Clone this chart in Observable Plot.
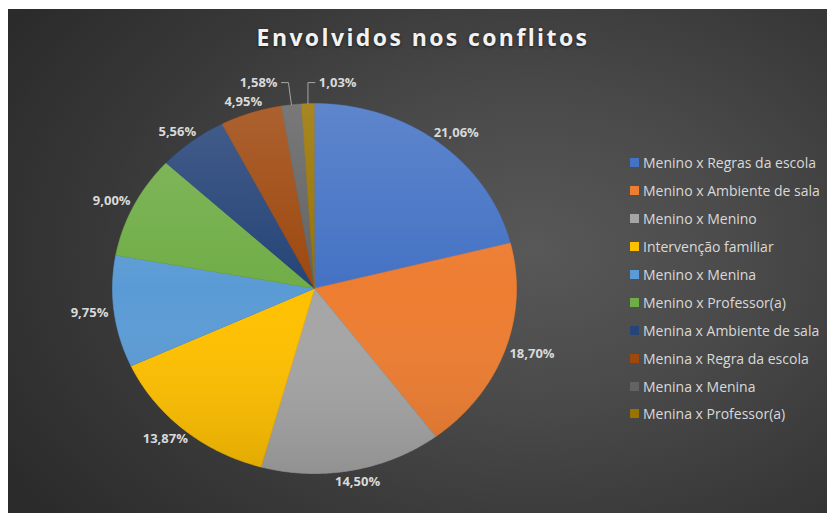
<!DOCTYPE html>
<html><head><meta charset="utf-8">
<script src="https://cdn.jsdelivr.net/npm/d3@7"></script>
<script src="https://cdn.jsdelivr.net/npm/@observablehq/plot@0.6"></script>
<style>
html,body{margin:0;padding:0;background:#fff;}
#chart{position:absolute;left:8px;top:9px;width:819px;height:504px;overflow:hidden;
  background: radial-gradient(ellipse 75% 85% at 64% 48%, #585858 0%, #4a4a4a 35%, #383838 70%, #2b2b2b 100%);
  font-family:"Open Sans",sans-serif;}
#title{position:absolute;left:0;top:13px;width:830px;text-align:center;color:#f2f2f2;font-size:23px;font-weight:700;letter-spacing:2.4px;line-height:30px;text-shadow:0 1px 3px rgba(0,0,0,.6);}
#legend{position:absolute;left:622px;top:140px;}
.row{display:flex;align-items:center;height:27.9px;color:#d9d9d9;font-size:14px;white-space:nowrap;}
.sw{width:9px;height:9px;margin-right:4px;flex:none;}
#plot{position:absolute;left:0;top:0;}
</style></head>
<body>
<div id="chart"><div id="plot"></div><div id="title">Envolvidos nos conflitos</div><div id="legend"></div></div>
<script>
const categories = ["Menino x Regras da escola","Menino x Ambiente de sala","Menino x Menino","Intervenção familiar","Menino x Menina","Menino x Professor(a)","Menina x Ambiente de sala","Menina x Regra da escola","Menina x Menina","Menina x Professor(a)"];
const values = [21.06, 18.70, 14.50, 13.87, 9.75, 9.00, 5.56, 4.95, 1.58, 1.03];
const colors = ["#4472C4","#ED7D31","#A5A5A5","#FFC000","#5B9BD5","#70AD47","#264478","#9E480E","#636363","#997300"];
const labels = values.map(v => v.toFixed(2).replace(".", ",") + "%");

const W = 819, H = 504, mL = 104, mR = 311, mT = 94, mB = 40;
const rx = (W - mL - mR) / 2, ry = (H - mT - mB) / 2;

const arcs = d3.pie().sort(null).value(d => d)(values);
const slices = arcs.map((a, i) => {
  const pts = [{x: 0, y: 0}];
  const n = Math.max(4, Math.ceil((a.endAngle - a.startAngle) / 0.01));
  for (let k = 0; k <= n; k++) {
    const t = a.startAngle + (a.endAngle - a.startAngle) * k / n;
    pts.push({x: Math.sin(t), y: Math.cos(t)});
  }
  return {cat: categories[i], color: colors[i], pts};
});
const ellipse = d3.range(0, 361).map(k => ({x: Math.sin(k * Math.PI / 180), y: Math.cos(k * Math.PI / 180)}));

// label placement (pixel offsets from centre, converted to data units)
const labelData = [], leaders = [];
const gap = 5, h = 14, last = arcs.length - 1;
arcs.forEach((a, i) => {
  const m = (a.startAngle + a.endAngle) / 2, s = Math.sin(m), c = Math.cos(m);
  const w = labels[i].length * 7.9;
  const ex = s * rx, ey = -c * ry;
  let px, py;
  if (values[i] < 2) {
    const side = (i === last || s > 0) ? 1 : -1;
    const ly = -ry * 1.113;
    const bend = side > 0 ? 0 : -3;
    const pts = [[ex, ey], [ex + bend, ly], [ex + bend + side * 7, ly]];
    pts.forEach(([qx, qy]) => leaders.push({id: i, x: qx / rx, y: -qy / ry}));
    px = ex + bend + side * (10 + w / 2);
    py = ly;
  } else {
    px = ex + s * (gap + w / 2);
    py = ey - c * (gap + h / 2);
  }
  labelData.push({text: labels[i], x: px / rx, y: -py / ry});
});

const plot = Plot.plot({
  width: W, height: H,
  marginLeft: mL, marginRight: mR, marginTop: mT, marginBottom: mB,
  x: {domain: [-1, 1], axis: null},
  y: {domain: [-1, 1], axis: null},
  style: {background: "transparent", overflow: "visible"},
  marks: [
    Plot.line(ellipse, {x: "x", y: "y", fill: "#000", fillOpacity: 0.45, stroke: "none", dy: 4, ariaLabel: "shadow"}),
    ...slices.map(s => Plot.line(s.pts, {x: "x", y: "y", fill: s.color, stroke: s.color, strokeWidth: 0.6})),
    Plot.line(ellipse, {x: "x", y: "y", fill: "url(#pieShade)", stroke: "none"}),
    Plot.line(leaders, {x: "x", y: "y", z: "id", stroke: "#a6a6a6", strokeWidth: 1}),
    Plot.text(labelData, {x: "x", y: "y", text: "text", fill: "#d9d9d9", fontSize: 13, fontWeight: 700, fontFamily: "Open Sans", textAnchor: "middle"})
  ]
});
const defs = d3.select(plot).insert("defs", ":first-child");
const bl = defs.append("filter").attr("id", "blur").attr("x", "-20%").attr("y", "-20%").attr("width", "140%").attr("height", "140%");
bl.append("feGaussianBlur").attr("stdDeviation", 4);
d3.select(plot).select('g[aria-label="shadow"]').attr("filter", "url(#blur)");
const lg = defs.append("linearGradient").attr("id", "pieShade").attr("x1", 0).attr("y1", 0).attr("x2", 0).attr("y2", 1);
lg.append("stop").attr("offset", "0%").attr("stop-color", "#fff").attr("stop-opacity", 0.14);
lg.append("stop").attr("offset", "50%").attr("stop-color", "#fff").attr("stop-opacity", 0);
lg.append("stop").attr("offset", "100%").attr("stop-color", "#000").attr("stop-opacity", 0.12);
document.getElementById("plot").appendChild(plot);

const legend = d3.select("#legend");
categories.forEach((c, i) => {
  const r = legend.append("div").attr("class", "row");
  r.append("div").attr("class", "sw").style("background", colors[i]);
  r.append("span").text(c);
});
</script>
</body></html>
